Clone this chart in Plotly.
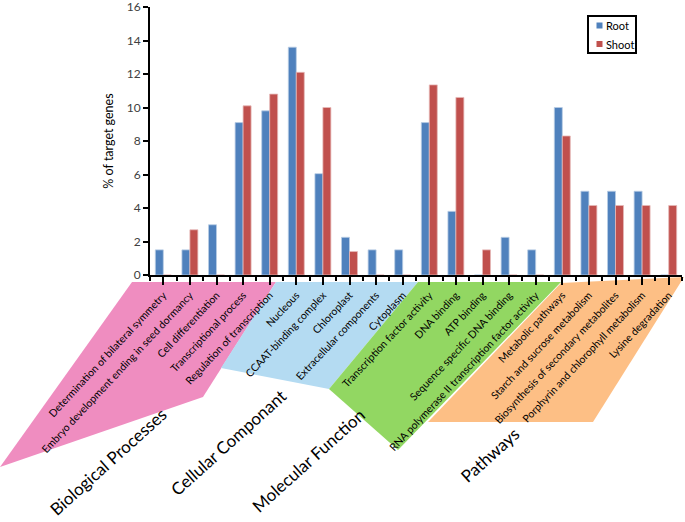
import plotly.graph_objects as go

categories = [
    "Determination of bilateral symmetry",
    "Embryo development ending in seed dormancy",
    "Cell differentiation",
    "Transcriptional process",
    "Regulation of transcription",
    "Nucleous",
    "CCAAT-binding complex",
    "Chloroplast",
    "Extracellular components",
    "Cytoplasm",
    "Transcription factor activity",
    "DNA binding",
    "ATP binding",
    "Sequence specific DNA binding",
    "RNA polymerase II transcription factor activity",
    "Metabolic pathways",
    "Starch and sucrose metabolism",
    "Biosynthesis of secondary metabolites",
    "Porphyrin and chlorophyll metabolism",
    "Lysine degradation",
]
root = [1.5, 1.5, 3.0, 9.1, 9.8, 13.6, 6.05, 2.25, 1.5, 1.5,
        9.1, 3.8, 0, 2.25, 1.5, 10.0, 5.0, 5.0, 5.0, 0]
shoot = [0, 2.7, 0, 10.1, 10.8, 12.1, 10.0, 1.4, 0, 0,
         11.35, 10.6, 1.5, 0, 0, 8.3, 4.15, 4.15, 4.15, 4.15]
y_ticks = [0, 2, 4, 6, 8, 10, 12, 14, 16]
groups = ["Biological Processes", "Cellular Componant", "Molecular Function", "Pathways"]
series_names = ["Root", "Shoot"]
series_colors = ["#4F81BD", "#C0504D"]

W, H = 685, 522
ML, MR, MT, MB = 150, 3, 7, 247
PW, PH = W - ML - MR, H - MT - MB

def px(x):
    return (x - ML) / PW

def py(y):
    return (H - MB - y) / PH

def poly(pts):
    return "M " + " L ".join(f"{px(a):.4f},{py(b):.4f}" for a, b in pts) + " Z"

xs = list(range(len(categories)))

fig = go.Figure()
fig.add_trace(go.Bar(x=xs, y=root, name=series_names[0],
                     marker=dict(color=series_colors[0], line=dict(color="#B9CDE5", width=0.8))))
fig.add_trace(go.Bar(x=xs, y=shoot, name=series_names[1],
                     marker=dict(color=series_colors[1], line=dict(color="#E6B9B8", width=0.8))))

shapes = []
polys = [
    ([(132, 282), (276, 282), (203, 397), (0, 467)], "#EF8DC0"),
    ([(276, 282), (418, 282), (329, 389), (221, 368)], "#B4DBF2"),
    ([(418, 282), (561, 282), (398, 450), (329, 389)], "#92D762"),
    ([(561, 283), (684, 277), (593, 422), (428, 422)], "#FDBF85"),
]
for pts, col in polys:
    shapes.append(dict(type="path", xref="paper", yref="paper", path=poly(pts),
                       fillcolor=col, line=dict(width=0), layer="below"))

annots = []
gpos = [(108, 461), (228, 442), (308, 460), (489, 455)]
for g, (gx, gy) in zip(groups, gpos):
    annots.append(dict(text=g, x=px(gx), y=py(gy), xref="paper", yref="paper",
                       showarrow=False, textangle=-42, xanchor="center", yanchor="middle",
                       font=dict(family="Lato", size=17, color="#000000")))

# compact legend box
shapes.append(dict(type="rect", xref="paper", yref="paper",
                   x0=px(588), x1=px(636), y0=py(16), y1=py(53),
                   line=dict(color="black", width=2), fillcolor="white"))
for i, (nm, col) in enumerate(zip(series_names, series_colors)):
    cy = 25.5 + i * 18.5
    shapes.append(dict(type="rect", xref="paper", yref="paper",
                       x0=px(596.5), x1=px(602.5), y0=py(cy - 3), y1=py(cy + 3),
                       line=dict(width=0), fillcolor=col))
    annots.append(dict(text=nm, x=px(603.5), y=py(cy), xref="paper", yref="paper",
                       showarrow=False, xanchor="left", yanchor="middle",
                       font=dict(family="Lato", size=11, color="#000000")))

fig.update_layout(
    width=W, height=H,
    margin=dict(l=ML, r=MR, t=MT, b=MB, autoexpand=False),
    paper_bgcolor="white", plot_bgcolor="white",
    barmode="group", bargap=0.4, bargroupgap=0,
    showlegend=False,
    shapes=shapes,
    annotations=annots,
    font=dict(family="Lato", color="#000000"),
)
fig.update_xaxes(
    range=[-0.5, len(categories) - 0.5],
    tickmode="array", tickvals=xs, ticktext=categories, tickangle=-47,
    ticks="outside", ticklen=8, tickwidth=2, tickcolor="black",
    minor=dict(ticks="outside", ticklen=4, tickwidth=2, tickcolor="black", tick0=0.5, dtick=1),
    showline=True, linecolor="black", linewidth=2, showgrid=False, zeroline=False,
    tickfont=dict(family="Lato", size=10.5, color="#000000"),
)
fig.update_yaxes(
    range=[0, 16], tickvals=y_ticks, ticklabeloverflow="allow",
    ticks="outside", ticklen=5, tickwidth=2, tickcolor="black",
    showline=True, linecolor="black", linewidth=2, showgrid=False, zeroline=False,
    tickfont=dict(family="Lato", size=12, color="#404040"),
    title=dict(text="% of target genes", font=dict(family="Lato", size=12.5, color="#000000"), standoff=10),
)
fig.write_html("out.html", config={"displayModeBar": False},
               post_script="document.body.style.margin='0';document.body.style.overflow='hidden';")
